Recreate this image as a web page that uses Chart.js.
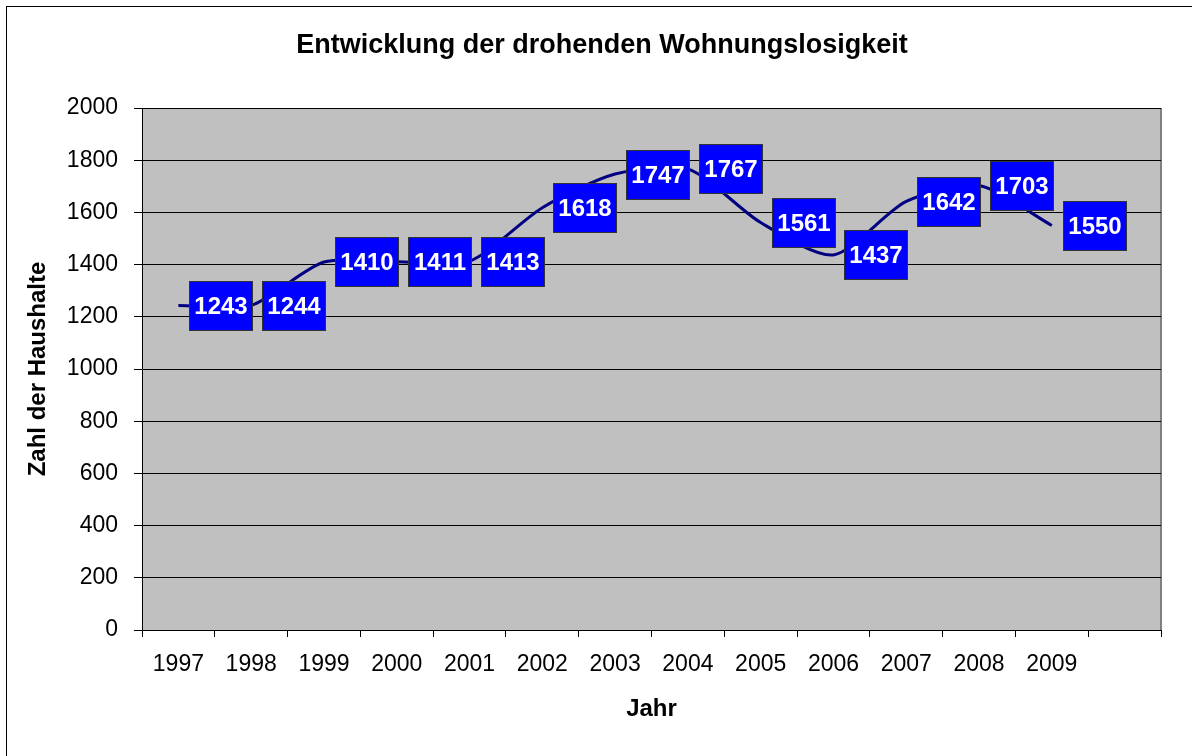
<!DOCTYPE html>
<html>
<head>
<meta charset="utf-8">
<script src="https://cdn.jsdelivr.net/npm/chart.js@4/dist/chart.umd.min.js"></script>
<style>
html,body{margin:0;padding:0;background:#fff;}
#c{display:block;}
</style>
</head>
<body>
<canvas id="c" width="1192" height="756"></canvas>
<script>
const years = ['1997','1998','1999','2000','2001','2002','2003','2004','2005','2006','2007','2008','2009',''];
const haushalte = [1243,1244,1410,1411,1413,1618,1747,1767,1561,1437,1642,1703,1550];
const yTicks = [0,200,400,600,800,1000,1200,1400,1600,1800,2000];
const chartTitle = 'Entwicklung der drohenden Wohnungslosigkeit';
const xTitle = 'Jahr';
const yTitle = 'Zahl der Haushalte';

const FONT = "'Liberation Sans', Arial, sans-serif";

const bgPlugin = {
  id: 'bg',
  beforeDraw(chart) {
    const {ctx, chartArea: a} = chart;
    ctx.save();
    ctx.fillStyle = '#fff';
    ctx.fillRect(0, 0, chart.width, chart.height);
    ctx.strokeStyle = '#000';
    ctx.lineWidth = 1;
    ctx.strokeRect(6.5, 6.5, 1300, 900);
    ctx.fillStyle = '#C0C0C0';
    ctx.fillRect(a.left, a.top, a.right - a.left, a.bottom - a.top);
    ctx.strokeStyle = '#808080';
    ctx.lineWidth = 2;
    ctx.beginPath();
    ctx.moveTo(a.right, a.top);
    ctx.lineTo(a.right, a.bottom);
    ctx.stroke();
    ctx.restore();
  }
};

const labelPlugin = {
  id: 'boxLabels',
  afterDatasetsDraw(chart) {
    const {ctx} = chart;
    const meta = chart.getDatasetMeta(0);
    ctx.save();
    ctx.font = "bold 24px " + FONT;
    ctx.textAlign = 'center';
    ctx.textBaseline = 'middle';
    meta.data.forEach((pt, i) => {
      const v = chart.data.datasets[0].data[i];
      if (v == null) return;
      const w = 63, h = 49;
      const x0 = Math.round(pt.x + 11) + 0.5;
      const y0 = Math.round(pt.y - h / 2) + 0.5;
      ctx.fillStyle = '#0000FF';
      ctx.fillRect(x0, y0, w, h);
      ctx.strokeStyle = '#333333';
      ctx.lineWidth = 1;
      ctx.strokeRect(x0, y0, w, h);
      ctx.fillStyle = '#FFFFFF';
      ctx.fillText(String(v), x0 + w / 2, y0 + h / 2 + 1);
    });
    ctx.restore();
  }
};

new Chart(document.getElementById('c'), {
  type: 'line',
  data: {
    labels: years,
    datasets: [{
      data: haushalte,
      borderColor: '#000080',
      borderWidth: 3,
      pointRadius: 0,
      tension: 0.25,
      fill: false
    }]
  },
  options: {
    responsive: false,
    animation: false,
    devicePixelRatio: 1,
    layout: {padding: {left: 12, right: 0, top: 0, bottom: 0}},
    plugins: {
      legend: {display: false},
      tooltip: {enabled: false},
      title: {
        display: true,
        text: chartTitle,
        color: '#000',
        font: {family: FONT, size: 27, weight: 'bold', lineHeight: 1.2},
        padding: {top: 29, bottom: 46.6}
      }
    },
    scales: {
      x: {
        type: 'category',
        offset: true,
        afterFit(s) { s.height = 126; },
        grid: {offset: true, drawOnChartArea: false, drawTicks: true, tickLength: 7, color: '#000', lineWidth: 1},
        border: {display: true, color: '#000', width: 1},
        ticks: {color: '#000', font: {family: FONT, size: 23}, padding: 14, maxRotation: 0, autoSkip: false},
        title: {display: true, text: xTitle, color: '#000', font: {family: FONT, size: 24, weight: 'bold', lineHeight: 1.2}, padding: {top: 0, bottom: 32}}
      },
      y: {
        min: 0,
        max: 2000,
        afterFit(s) { s.width = 130; },
        afterBuildTicks(s) { s.ticks = yTicks.map(v => ({value: v})); },
        grid: {drawTicks: true, tickLength: 8, color: '#000', lineWidth: 1},
        border: {display: true, color: '#000', width: 1},
        ticks: {color: '#000', font: {family: FONT, size: 23}, padding: 16, callback: v => String(v)},
        title: {display: true, text: yTitle, color: '#000', font: {family: FONT, size: 24, weight: 'bold', lineHeight: 1.2}, padding: {top: 12, bottom: 0}}
      },
      yr: {
        position: 'right',
        display: true,
        min: 0,
        max: 2000,
        afterFit(s) { s.width = 31; },
        grid: {display: false, drawTicks: false},
        border: {display: false},
        ticks: {display: false}
      }
    }
  },
  plugins: [bgPlugin, labelPlugin]
});
</script>
</body>
</html>
